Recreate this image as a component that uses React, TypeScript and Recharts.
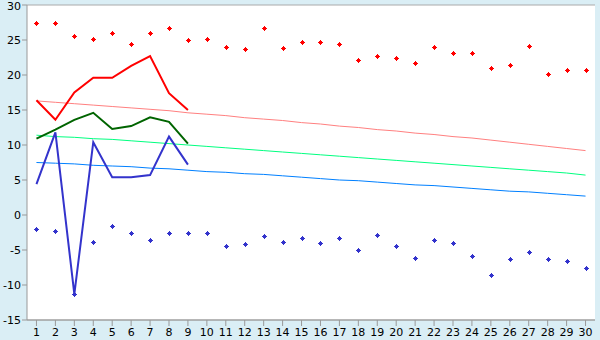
import React from 'react';
import { ComposedChart, Line, XAxis, YAxis, CartesianGrid } from 'recharts';

const days = [1,2,3,4,5,6,7,8,9,10,11,12,13,14,15,16,17,18,19,20,21,22,23,24,25,26,27,28,29,30];
const maxTemps = [27.5,27.4,25.5,25.2,26.0,24.5,26.0,26.7,25.0,25.2,24.0,23.7,26.7,23.8,24.7,24.7,24.5,22.2,22.7,22.4,21.7,24.0,23.2,23.2,21.0,21.4,24.1,20.1,20.7,20.7];
const minTemps = [-2.05,-2.3,-11.3,-3.8,-1.6,-2.5,-3.5,-2.6,-2.6,-2.6,-4.5,-4.2,-3.0,-3.8,-3.3,-4.0,-3.3,-5.0,-2.9,-4.5,-6.2,-3.6,-4.0,-5.8,-8.6,-6.3,-5.3,-6.3,-6.5,-7.5];
const highLine = [16.4,13.6,17.5,19.6,19.6,21.3,22.7,17.4,15.0];
const meanLine = [10.9,12.2,13.6,14.6,12.3,12.7,13.95,13.3,10.2];
const lowLine = [4.4,11.8,-11.3,10.4,5.4,5.4,5.7,11.2,7.2];
const normHigh = [16.3,16.1,15.9,15.7,15.5,15.3,15.1,14.9,14.6,14.4,14.2,13.9,13.7,13.5,13.2,13.0,12.7,12.5,12.2,12.0,11.7,11.5,11.2,11.0,10.7,10.4,10.1,9.8,9.5,9.2];
const normMean = [11.4,11.2,11.1,10.9,10.8,10.6,10.4,10.2,10.0,9.8,9.6,9.4,9.2,9.0,8.8,8.6,8.4,8.2,8.0,7.8,7.6,7.4,7.2,7.0,6.8,6.6,6.4,6.2,6.0,5.7];
const normLow = [7.5,7.4,7.3,7.1,7.0,6.9,6.7,6.6,6.4,6.2,6.1,5.9,5.8,5.6,5.4,5.2,5.0,4.9,4.7,4.5,4.3,4.2,4.0,3.8,3.6,3.4,3.3,3.1,2.9,2.7];
const yTicks = [-15,-10,-5,0,5,10,15,20,25,30];

const data = days.map((d, i) => ({
  day: d,
  max: maxTemps[i],
  min: minTemps[i],
  high: i < highLine.length ? highLine[i] : null,
  mean: i < meanLine.length ? meanLine[i] : null,
  low: i < lowLine.length ? lowLine[i] : null,
  nHigh: normHigh[i],
  nMean: normMean[i],
  nLow: normLow[i],
}));

const makePlus = (color: string) => (props: any) => {
  const { cx, cy, index } = props;
  if (cx == null || cy == null) return <g key={index} />;
  const x = Math.round(cx);
  const y = Math.round(cy);
  return (
    <g key={index} shapeRendering="crispEdges">
      <rect x={x - 1.5} y={y - 1.5} width={3} height={3} fill={color} />
      <rect x={x - 2.5} y={y - 0.5} width={5} height={1} fill={color} />
      <rect x={x - 0.5} y={y - 2.5} width={1} height={5} fill={color} />
    </g>
  );
};

export default function App() {
  return (
    <div style={{ position: 'fixed', left: 0, top: 0, width: 600, height: 340, background: '#daeef5' }}>
      <ComposedChart width={600} height={340} data={data} margin={{ top: 5, right: 5, bottom: 0, left: 0 }}>
        <CartesianGrid vertical={false} stroke="#aaaaaa" fill="#ffffff" />
        <XAxis
          dataKey="day"
          type="number"
          domain={[0.5, 30.5]}
          ticks={days}
          interval={0}
          height={20}
          tickSize={6}
          tickMargin={2}
          stroke="#999999"
          tick={{ fill: '#000', fontSize: 11, fontFamily: 'DejaVu Sans' }}
        />
        <YAxis
          yAxisId="l"
          domain={[-15, 30]}
          ticks={yTicks}
          width={27}
          tickSize={5}
          tickMargin={1}
          stroke="#999999"
          tick={{ fill: '#000', fontSize: 11, fontFamily: 'DejaVu Sans' }}
        />
        <YAxis yAxisId="r" orientation="right" domain={[-15, 30]} width={0} tick={false} tickLine={false} stroke="#aaaaaa" />
        <Line yAxisId="l" dataKey="nHigh" stroke="#ff8080" strokeWidth={1} dot={false} isAnimationActive={false} />
        <Line yAxisId="l" dataKey="nMean" stroke="#00ff80" strokeWidth={1} dot={false} isAnimationActive={false} />
        <Line yAxisId="l" dataKey="nLow" stroke="#0080ff" strokeWidth={1} dot={false} isAnimationActive={false} />
        <Line yAxisId="l" dataKey="high" stroke="#ff0000" strokeWidth={2} dot={false} isAnimationActive={false} />
        <Line yAxisId="l" dataKey="mean" stroke="#006400" strokeWidth={2} dot={false} isAnimationActive={false} />
        <Line yAxisId="l" dataKey="low" stroke="#3333cc" strokeWidth={2} dot={false} isAnimationActive={false} />
        <Line yAxisId="l" dataKey="max" stroke="none" dot={makePlus('#ff0000')} activeDot={false} isAnimationActive={false} />
        <Line yAxisId="l" dataKey="min" stroke="none" dot={makePlus('#3333cc')} activeDot={false} isAnimationActive={false} />
      </ComposedChart>
    </div>
  );
}
